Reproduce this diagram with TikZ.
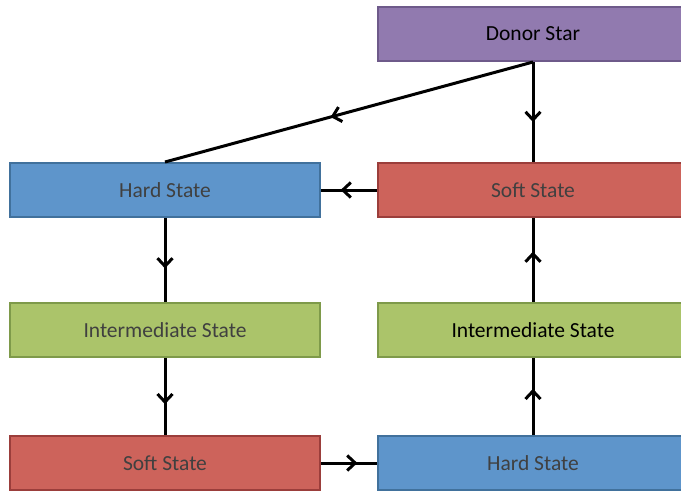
\documentclass[tikz,border=0pt]{standalone}
\usepackage{fontspec}
\setmainfont{Carlito}
\usetikzlibrary{positioning,arrows.meta,decorations.markings}

\definecolor{purplefill}{HTML}{917AAF}
\definecolor{purpleline}{HTML}{6E5A8A}
\definecolor{bluefill}{HTML}{5E95CB}
\definecolor{blueline}{HTML}{41719C}
\definecolor{redfill}{HTML}{CD635B}
\definecolor{redline}{HTML}{9B3E3B}
\definecolor{greenfill}{HTML}{ABC46A}
\definecolor{greenline}{HTML}{7E9A4A}
\definecolor{greytext}{HTML}{404040}

\tikzset{
  state/.style={rectangle, draw, line width=2pt, minimum width=310pt, minimum height=54pt,
    inner sep=0pt, font=\fontsize{21.5}{24}\selectfont, text=greytext},
  donor/.style={state, fill=purplefill, draw=purpleline, text=black},
  hard/.style={state, fill=bluefill, draw=blueline},
  soft/.style={state, fill=redfill, draw=redline},
  inter/.style={state, fill=greenfill, draw=greenline},
  flow/.style={line width=3pt, postaction={decorate},
    decoration={markings, mark=at position #1 with
      {\arrow{Straight Barb[length=8pt,width=15pt,line width=3pt]}}}},
  flow/.default=0.6
}

\begin{document}
\begin{tikzpicture}[x=1pt, y=1pt]

    \useasboundingbox (0,0) rectangle (681,-491);
    \clip (0,0) rectangle (681,-491);

    % Define nodes
    \node[donor]                        (star)  at (533,-34) {Donor Star};
    \node[soft, below=100pt of star]    (softR) {Soft State};
    \node[hard, left=56pt of softR]     (hardL) {Hard State};
    \node[inter, below=84pt of hardL]   (intL)  {Intermediate State};
    \node[soft, below=77pt of intL]     (softL) {Soft State};
    \node[inter, below=84pt of softR, text=black] (intR) {Intermediate State};
    \node[hard, below=77pt of intR]     (hardR) {Hard State};

    % Connect the nodes
    \draw[flow=0.55] (star.south) -- (hardL.north);
    \draw[flow] (star.south) -- (softR.north);
    \draw[flow=0.65] (softR.west) -- (hardL.east);
    \draw[flow] (hardL.south) -- (intL.north);
    \draw[flow] (intL.south) -- (softL.north);
    \draw[flow=0.65] (softL.east) -- (hardR.west);
    \draw[flow] (hardR.north) -- (intR.south);
    \draw[flow] (intR.north) -- (softR.south);

\end{tikzpicture}
\end{document}
